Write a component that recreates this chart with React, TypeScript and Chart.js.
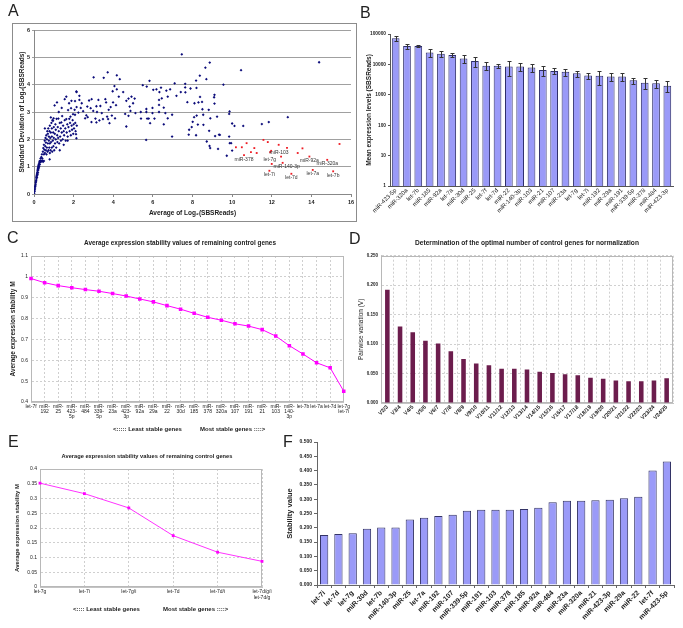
import React, { useEffect, useRef } from "react";
import { Chart, registerables } from "chart.js";

Chart.register(...registerables);
const FF = "'Liberation Sans', Arial, Helvetica, sans-serif";
Chart.defaults.font.family = FF;
Chart.defaults.color = "#222";

// ---------------- Panel A data ----------------
const blueDots: [number, number][] = [
  [0.01, 0.03], [0.03, 0.1], [0.04, 0.16], [0.05, 0.22], [0.06, 0.28], [0.07, 0.3], [0.08, 0.36], [0.09, 0.42],
  [0.1, 0.47], [0.11, 0.5], [0.12, 0.55], [0.12, 0.6], [0.13, 0.64], [0.14, 0.68], [0.15, 0.6], [0.15, 0.72],
  [0.16, 0.76], [0.17, 0.8], [0.18, 0.7], [0.18, 0.85], [0.19, 0.9], [0.2, 0.78], [0.2, 0.94], [0.21, 0.98],
  [0.22, 0.88], [0.22, 1.02], [0.23, 1.06], [0.24, 0.95], [0.25, 1.1], [0.26, 1.0], [0.27, 1.14], [0.28, 1.2],
  [0.29, 1.08], [0.3, 1.2], [0.32, 1.17], [0.34, 1.22], [0.36, 1.19], [0.38, 1.21], [0.4, 1.2], [0.43, 1.22],
  [0.46, 1.18], [0.5, 1.21], [0.33, 1.3], [0.37, 1.35], [0.4, 1.45], [0.42, 1.3],
  [0.45, 1.55], [0.47, 1.68], [0.5, 1.45], [0.5, 1.8], [0.52, 1.62], [0.54, 1.95], [0.55, 1.5], [0.57, 1.75],
  [0.58, 2.05], [0.6, 1.6], [0.6, 1.88], [0.62, 2.15], [0.63, 1.45], [0.65, 1.7], [0.65, 2.0], [0.67, 2.3],
  [0.68, 1.55], [0.7, 1.85], [0.7, 2.2], [0.72, 2.4], [0.73, 1.6], [0.75, 1.95], [0.75, 2.1], [0.77, 1.7],
  [0.78, 2.3], [0.79, 1.27], [0.8, 1.5], [0.8, 1.85], [0.8, 2.5], [0.82, 2.05], [0.84, 1.6], [0.85, 2.25],
  [0.86, 1.9], [0.88, 2.6], [0.9, 1.7], [0.9, 2.1], [0.9, 2.4], [0.92, 1.55], [0.93, 2.7], [0.95, 1.95],
  [0.96, 2.68], [0.97, 2.25], [0.98, 1.75], [0.99, 2.77], [1.0, 2.05], [1.0, 2.45], [1.02, 1.6], [1.04, 3.24],
  [1.05, 2.2], [1.06, 1.85], [1.08, 2.55], [1.1, 2.0], [1.1, 2.35], [1.12, 1.7], [1.14, 2.75], [1.16, 3.35],
  [1.17, 2.15], [1.18, 1.9], [1.2, 2.45], [1.22, 2.05], [1.23, 2.76], [1.25, 2.3], [1.27, 1.85], [1.3, 2.6],
  [1.32, 2.1], [1.35, 2.4], [1.36, 1.95], [1.38, 2.62], [1.4, 2.25], [1.42, 2.85], [1.45, 2.0], [1.47, 2.5],
  [1.5, 2.3], [1.52, 2.15], [1.55, 3.47], [1.55, 2.7], [1.58, 2.4], [1.6, 1.95], [1.63, 3.56], [1.63, 2.74],
  [1.65, 2.25], [1.68, 2.55], [1.7, 2.1], [1.72, 3.07], [1.74, 2.45], [1.77, 3.32], [1.78, 2.75], [1.8, 2.3],
  [1.82, 2.6], [1.84, 2.83], [1.86, 2.15], [1.87, 3.14], [1.89, 3.41], [1.9, 2.5], [1.92, 2.35], [1.95, 2.7],
  [1.97, 2.92], [1.98, 2.2], [2.0, 2.55], [2.02, 2.4], [2.05, 3.08], [2.07, 3.4], [2.08, 2.6], [2.1, 2.3],
  [2.12, 2.19], [2.14, 2.04], [2.14, 3.75], [2.16, 2.5], [0.55, 2.4], [0.85, 2.8], [1.25, 3.0], [1.4, 3.15],
  [1.3, 1.6], [1.5, 1.8], [1.7, 1.95],
  [7.46, 5.11], [8.87, 4.81], [8.65, 4.62], [10.45, 4.53], [14.39, 4.82], [3.72, 4.45], [3.01, 4.27], [3.52, 4.25],
  [4.18, 4.34], [4.33, 4.2], [8.37, 4.33], [8.18, 4.15], [8.7, 4.2], [7.1, 4.05], [7.63, 4.03], [9.56, 4.0],
  [5.83, 4.14], [5.49, 3.98], [5.69, 3.93], [6.02, 3.81], [6.18, 3.83], [6.41, 3.89], [6.33, 3.73], [6.68, 3.78],
  [6.87, 3.83], [7.63, 3.9], [7.41, 3.73], [7.9, 3.86], [7.64, 3.72], [8.2, 3.88], [8.38, 3.55], [7.19, 3.59],
  [6.75, 3.56], [8.3, 3.35], [8.1, 3.32], [8.48, 3.37], [7.74, 3.36], [9.11, 3.31], [9.11, 3.63], [9.09, 3.54],
  [6.31, 3.44], [6.45, 3.5], [5.98, 3.15], [6.31, 3.26], [5.98, 2.96], [6.31, 3.0], [6.55, 3.16], [5.67, 3.11],
  [5.67, 3.0], [5.39, 3.0], [5.79, 2.76], [6.08, 2.76], [5.86, 2.59], [5.4, 2.76], [5.71, 2.76], [6.63, 2.96],
  [6.75, 2.77], [6.55, 2.55], [6.97, 2.9], [6.97, 2.1], [5.66, 1.98], [7.83, 2.35], [7.81, 2.17], [8.08, 2.81],
  [8.21, 2.87], [8.01, 2.64], [7.96, 2.45], [8.27, 2.54], [8.18, 2.15], [8.54, 2.9], [8.5, 3.1], [8.82, 3.08],
  [8.9, 2.77], [8.55, 2.53], [9.24, 2.83], [9.34, 2.17], [9.14, 2.12], [8.84, 2.31], [9.29, 1.65], [8.86, 1.76],
  [8.89, 1.68], [8.72, 1.92], [9.87, 3.02], [9.85, 2.93], [10.0, 2.58], [10.12, 2.49], [9.88, 1.86], [9.95, 1.86],
  [9.73, 1.4], [11.5, 2.56], [11.85, 2.63], [12.81, 2.81], [10.56, 2.49], [10.0, 1.59], [9.85, 2.1], [9.38, 2.16],
  [4.06, 3.95], [3.97, 3.76], [4.18, 3.83], [4.5, 3.73], [4.28, 3.56], [4.77, 3.49], [4.92, 3.56], [5.08, 3.49],
  [4.66, 3.41], [5.0, 3.32], [4.83, 3.2], [4.87, 3.04], [5.12, 2.96], [4.66, 2.47], [4.6, 2.93], [4.77, 2.86],
  [4.14, 3.25], [3.99, 3.35], [3.87, 3.18], [3.77, 3.08], [3.6, 3.47], [3.64, 3.35], [3.69, 2.83], [3.74, 2.74],
  [3.81, 2.59], [4.09, 2.77], [3.93, 2.87], [3.25, 3.44], [3.35, 3.22], [3.15, 3.21], [3.18, 3.0], [3.3, 2.69],
  [3.48, 2.74], [3.42, 2.96], [2.78, 3.42], [2.69, 3.2], [2.86, 3.14], [2.91, 3.47], [2.99, 3.04], [3.1, 2.76],
  [2.9, 2.63], [3.15, 2.62], [2.64, 2.88], [2.58, 2.77], [2.71, 2.81], [2.48, 3.03], [2.41, 3.32], [2.36, 3.15],
  [2.29, 3.59], [2.15, 3.73], [2.29, 3.44], [2.24, 2.98], [2.15, 3.18], [2.07, 2.9],
];

const redDots: [number, number][] = [
  [10.19, 1.71], [10.49, 1.71], [10.73, 1.86], [10.6, 1.42], [10.95, 1.53], [11.12, 1.68], [11.24, 1.5],
  [11.58, 1.98], [11.8, 1.9], [11.92, 1.53], [11.97, 1.58], [12.0, 1.1], [11.88, 0.85], [12.35, 1.8],
  [12.47, 1.37], [12.55, 1.14], [12.77, 1.69], [12.99, 0.74], [13.31, 1.5], [13.55, 1.67], [13.9, 1.37],
  [14.07, 0.88], [14.8, 1.25], [15.1, 0.83], [15.42, 1.83],
];
const redLabels: string[] = [
  "", "", "", "miR-378", "", "", "", "", "", "", "", "let-7g", "let-7i", "", "miR-103", "miR-140-3p", "",
  "let-7d", "", "", "miR-92a", "let-7a", "miR-320a", "let-7b", "",
];
const labelsAbove: string[] = ["let-7g", "miR-103"];

// ---------------- Panel B data ----------------
const bLabels: string[] = [
  "miR-423-5p", "miR-320a", "let-7b", "miR-185", "miR-92a", "let-7a", "miR-30d", "miR-25", "let-7f", "let-7d",
  "miR-22", "miR-140-3p", "miR-103", "miR-21", "miR-107", "miR-23a", "let-7g", "let-7i", "miR-192", "miR-29a",
  "miR-191", "miR-339-5p", "miR-378", "miR-484", "miR-423-3p",
];
const bValues: number[] = [
  72000, 40500, 40000, 24400, 22600, 20500, 15500, 13000, 9100, 9000, 8500, 8500, 7900, 6600, 6100, 5700,
  5100, 4300, 4200, 4000, 4000, 3000, 2500, 2400, 2000,
];
const bErrors: number[] = [
  14000, 7700, 3500, 7000, 5100, 2700, 4500, 5000, 2700, 1600, 4200, 2400, 2100, 2500, 1400, 1500, 1200, 900,
  2100, 1200, 1200, 700, 1000, 700, 750,
];
const bTicks: number[] = [1, 10, 100, 1000, 10000, 100000];

// ---------------- Panel C data ----------------
const cLabels: (string | string[])[] = [
  "let-7f", ["miR-", "192"], ["miR-", "25"], ["miR-", "423-", "5p"], ["miR-", "484"], ["miR-", "339-", "5p"],
  ["miR-", "23a"], ["miR-", "423-", "3p"], ["miR-", "92a"], ["miR-", "29a"], ["miR-", "22"], ["miR-", "30d"],
  ["miR-", "185"], ["miR-", "378"], ["miR-", "320a"], ["miR-", "107"], ["miR-", "191"], ["miR-", "21"],
  ["miR-", "103"], ["miR-", "140-", "3p"], "let-7b", "let-7a", "let-7d", ["let-7g", "let-7i"],
];
const cValues: number[] = [
  0.992, 0.972, 0.958, 0.948, 0.939, 0.931, 0.92, 0.908, 0.894, 0.88, 0.862, 0.845, 0.825, 0.806, 0.792,
  0.775, 0.764, 0.747, 0.716, 0.67, 0.63, 0.588, 0.564, 0.452,
];

// ---------------- Panel D data ----------------
const dLabels: string[] = [
  "V2/3", "V3/4", "V4/5", "V5/6", "V6/7", "V7/8", "V8/9", "V9/10", "V10/11", "V11/12", "V12/13", "V13/14",
  "V14/15", "V15/16", "V16/17", "V17/18", "V18/19", "V19/20", "V20/21", "V21/22", "V22/23", "V23/24", "V24/25",
];
const dValues: number[] = [
  0.192, 0.13, 0.12, 0.1056, 0.101, 0.088, 0.0745, 0.067, 0.064, 0.058, 0.058, 0.057, 0.053, 0.051, 0.049,
  0.047, 0.043, 0.041, 0.038, 0.037, 0.037, 0.038, 0.042,
];

// ---------------- Panel E data ----------------
const eLabels: (string | string[])[] = ["let-7g", "let-7i", "let-7g/i", "let-7d", "let-7d/i", ["let-7d/g/i", "let-7d/g"]];
const eValues: number[] = [0.352, 0.3165, 0.268, 0.174, 0.118, 0.087];

// ---------------- Panel F data ----------------
const fLabels: string[] = [
  "let-7i", "let-7d", "let-7g", "miR-30d", "let-7b", "miR-140-3p", "miR-25", "let-7a", "miR-192", "miR-107",
  "miR-339-5p", "miR-191", "miR-103", "miR-378", "miR-185", "miR-92a", "miR-484", "miR-23a", "miR-320a",
  "miR-21", "miR-423-3p", "miR-29a", "miR-22", "let-7f", "miR-423-5p",
];
const fValues: number[] = [
  0.175, 0.178, 0.181, 0.197, 0.201, 0.201, 0.229, 0.235, 0.241, 0.246, 0.26, 0.263, 0.263, 0.263, 0.266,
  0.27, 0.289, 0.295, 0.295, 0.296, 0.298, 0.303, 0.309, 0.4, 0.432,
];

// ---------------- helpers & plugins ----------------
const fixW = (w: number) => (s: any) => { s.width = w; };
const fixH = (h: number) => (s: any) => { s.height = h; };

const framePlugin = {
  id: "frame",
  beforeDatasetsDraw(chart: any, _a: any, opts: any) {
    if (!opts || !opts.color) return;
    const { left, top, right, bottom } = chart.chartArea;
    const ctx = chart.ctx;
    ctx.save();
    ctx.strokeStyle = opts.color;
    ctx.lineWidth = 1;
    ctx.setLineDash([]);
    ctx.strokeRect(Math.round(left) + 0.5, Math.round(top) + 0.5, Math.round(right - left) - 1, Math.round(bottom - top) - 1);
    ctx.restore();
  },
};

const errorBarPlugin = {
  id: "errorBars",
  afterDatasetsDraw(chart: any, _a: any, opts: any) {
    if (!opts || !opts.errors) return;
    const meta = chart.getDatasetMeta(0);
    const ys = chart.scales.y;
    const ctx = chart.ctx;
    ctx.save();
    ctx.strokeStyle = opts.color;
    ctx.lineWidth = 1;
    meta.data.forEach((bar: any, i: number) => {
      const v = chart.data.datasets[0].data[i] as number;
      const e = opts.errors[i];
      const yT = Math.round(ys.getPixelForValue(v + e)) + 0.5;
      const yB = Math.round(ys.getPixelForValue(Math.max(v - e, 1))) + 0.5;
      const x = Math.round(bar.x) + 0.5;
      ctx.beginPath();
      ctx.moveTo(x, yT); ctx.lineTo(x, yB);
      ctx.moveTo(x - 2, yT); ctx.lineTo(x + 2, yT);
      ctx.moveTo(x - 2, yB); ctx.lineTo(x + 2, yB);
      ctx.stroke();
    });
    ctx.restore();
  },
};

const pointLabelPlugin = {
  id: "pointLabels",
  afterDatasetsDraw(chart: any, _a: any, opts: any) {
    if (!opts || !opts.labels) return;
    const meta = chart.getDatasetMeta(opts.datasetIndex);
    const ctx = chart.ctx;
    ctx.save();
    ctx.font = `5px ${FF}`;
    ctx.fillStyle = "#333";
    ctx.textAlign = "center";
    ctx.textBaseline = "middle";
    opts.labels.forEach((t: string, i: number) => {
      if (!t) return;
      const p = meta.data[i];
      const above = opts.above.includes(t);
      const dx = t === "miR-140-3p" ? 4 : above ? -2 : 0;
      ctx.fillText(t, p.x + dx, p.y + (above ? -4 : 4));
    });
    ctx.restore();
  },
};

const base = { responsive: false, animation: false as const, devicePixelRatio: 1, events: [] as any[] };

// ---------------- chart configs ----------------
const makeA = () => ({
  type: "scatter",
  data: {
    datasets: [
      { data: blueDots.map(([x, y]) => ({ x, y })), pointStyle: "rectRot", pointRadius: 1.4, pointBackgroundColor: "#0b0b7a", pointBorderWidth: 0 },
      { data: redDots.map(([x, y]) => ({ x, y })), pointStyle: "rect", pointRadius: 1.3, pointBackgroundColor: "#ee1c24", pointBorderWidth: 0 },
    ],
  },
  options: {
    ...base,
    layout: { padding: { left: 0, top: 7, right: 6, bottom: 0 } },
    plugins: { legend: { display: false }, tooltip: { enabled: false }, pointLabels: { datasetIndex: 1, labels: redLabels, above: labelsAbove } },
    scales: {
      x: {
        type: "linear", min: 0, max: 16, afterFit: fixH(28),
        ticks: { stepSize: 2, font: { size: 5.5, weight: "bold" }, padding: 2, color: "#222" },
        grid: { drawOnChartArea: false, tickLength: 3, color: "#888" },
        border: { color: "#888" },
        title: { display: true, text: "Average of Log₂(SBSReads)", font: { size: 6.5, weight: "bold" }, padding: { top: 0, bottom: 5 }, color: "#222" },
      },
      y: {
        min: 0, max: 6, afterFit: fixW(22),
        ticks: { stepSize: 1, font: { size: 5.5, weight: "bold" }, padding: 2, color: "#222" },
        grid: { color: "#a0a0a0", tickLength: 2 },
        border: { color: "#888" },
        title: { display: true, text: "Standard Deviation of Log₂(SBSReads)", font: { size: 6.5, weight: "bold" }, padding: { top: 6, bottom: 0 }, color: "#222" },
      },
    },
  },
  plugins: [pointLabelPlugin],
});

const makeB = () => ({
  type: "bar",
  data: {
    labels: bLabels,
    datasets: [{ data: bValues, backgroundColor: "#9a9af8", borderColor: "#2e2e6a", borderWidth: 1, barPercentage: 0.68, categoryPercentage: 1 }],
  },
  options: {
    ...base,
    layout: { padding: { left: 0, top: 9, right: 10, bottom: 0 } },
    plugins: { legend: { display: false }, tooltip: { enabled: false }, errorBars: { errors: bErrors, color: "#333" } },
    scales: {
      x: {
        afterFit: fixH(31),
        ticks: { autoSkip: false, minRotation: 45, maxRotation: 45, font: { size: 6 }, padding: 1, color: "#222" },
        grid: { display: false, drawTicks: false },
        border: { color: "#555" },
      },
      y: {
        type: "logarithmic", min: 1, max: 100000, afterFit: fixW(35),
        afterBuildTicks: (s: any) => { s.ticks = bTicks.map((v) => ({ value: v })); },
        ticks: { callback: (v: any) => String(v), font: { size: 4.8, weight: "bold" }, padding: 2, color: "#222" },
        grid: { drawOnChartArea: false, tickLength: 2, color: "#555" },
        border: { color: "#555" },
        title: { display: true, text: "Mean expression levels (SBSReads)", font: { size: 6.5, weight: "bold" }, padding: { top: 10, bottom: 0 }, color: "#222" },
      },
    },
  },
  plugins: [errorBarPlugin],
});

const gridDash = { color: "#c4c4c4", dash: [2, 2] };

const makeC = () => ({
  type: "line",
  data: {
    labels: cLabels,
    datasets: [{ data: cValues, borderColor: "#ff00ff", borderWidth: 1, pointStyle: "rect", pointRadius: 2.5, pointBackgroundColor: "#ff00ff", pointBorderWidth: 0, tension: 0 }],
  },
  options: {
    ...base,
    layout: { padding: { left: 0, top: 3, right: 6, bottom: 0 } },
    plugins: { legend: { display: false }, tooltip: { enabled: false }, frame: { color: "#b8b8b8" } },
    scales: {
      x: {
        afterFit: fixH(28),
        ticks: { autoSkip: false, minRotation: 0, maxRotation: 0, font: { size: 5, lineHeight: 1 }, padding: 2, color: "#222" },
        grid: { color: "#cfcfcf", drawTicks: false },
        border: gridDash,
      },
      y: {
        min: 0.4, max: 1.1, afterFit: fixW(31),
        ticks: { stepSize: 0.1, callback: (v: any) => String(+(+v).toFixed(1)), font: { size: 5 }, padding: 3, color: "#222" },
        grid: { color: "#cfcfcf", drawTicks: false },
        border: gridDash,
        title: { display: true, text: "Average expression stability M", font: { size: 6.5, weight: "bold" }, padding: { top: 9, bottom: 0 }, color: "#222" },
      },
    },
  },
  plugins: [framePlugin],
});

const makeD = () => ({
  type: "bar",
  data: {
    labels: dLabels,
    datasets: [{ data: dValues, backgroundColor: "#6c1d4d", barPercentage: 0.36, categoryPercentage: 1 }],
  },
  options: {
    ...base,
    layout: { padding: { left: 0, top: 3, right: 10, bottom: 0 } },
    plugins: { legend: { display: false }, tooltip: { enabled: false }, frame: { color: "#b8b8b8" } },
    scales: {
      x: {
        afterFit: fixH(29),
        ticks: { autoSkip: false, minRotation: 45, maxRotation: 45, font: { size: 5.5, weight: "bold" }, padding: 1, color: "#222" },
        grid: { color: "#d0d0d0", drawTicks: false },
        border: gridDash,
      },
      y: {
        min: 0, max: 0.25, afterFit: fixW(26),
        ticks: { stepSize: 0.05, callback: (v: any) => (+v).toFixed(3), font: { size: 4.5, weight: "bold" }, padding: 3, color: "#222" },
        grid: { color: "#d0d0d0", drawTicks: false },
        border: gridDash,
        title: { display: true, text: "Pairwise variation (V)", font: { size: 6.5 }, padding: { top: 2, bottom: 0 }, color: "#222" },
      },
    },
  },
  plugins: [framePlugin],
});

const makeE = () => ({
  type: "line",
  data: {
    labels: eLabels,
    datasets: [{ data: eValues, borderColor: "#ff33ff", borderWidth: 1, pointStyle: "rect", pointRadius: 2, pointBackgroundColor: "#ff00ff", pointBorderWidth: 0, tension: 0 }],
  },
  options: {
    ...base,
    layout: { padding: { left: 0, top: 3, right: 13, bottom: 0 } },
    plugins: { legend: { display: false }, tooltip: { enabled: false }, frame: { color: "#b8b8b8" } },
    scales: {
      x: {
        afterFit: fixH(18),
        ticks: { autoSkip: false, minRotation: 0, maxRotation: 0, font: { size: 5, lineHeight: 1.1 }, padding: 2, color: "#222" },
        grid: { color: "#cfcfcf", drawTicks: false },
        border: gridDash,
      },
      y: {
        min: 0, max: 0.4, afterFit: fixW(40),
        ticks: { stepSize: 0.05, callback: (v: any) => String(+(+v).toFixed(2)), font: { size: 5 }, padding: 3, color: "#222" },
        grid: { color: "#cfcfcf", drawTicks: false },
        border: gridDash,
        title: { display: true, text: "Average expression stability M", font: { size: 6, weight: "bold" }, padding: { top: 14, bottom: 0 }, color: "#222" },
      },
    },
  },
  plugins: [framePlugin],
});

const makeF = () => ({
  type: "bar",
  data: {
    labels: fLabels,
    datasets: [{ data: fValues, backgroundColor: "#9a9af8", borderColor: "#333366", borderWidth: 1, barPercentage: 0.58, categoryPercentage: 1 }],
  },
  options: {
    ...base,
    layout: { padding: { left: 0, top: 7, right: 9, bottom: 0 } },
    plugins: { legend: { display: false }, tooltip: { enabled: false } },
    scales: {
      x: {
        afterFit: fixH(43),
        ticks: { autoSkip: false, minRotation: 45, maxRotation: 45, font: { size: 7, weight: "bold" }, padding: 1, color: "#222" },
        grid: { drawOnChartArea: false, offset: true, tickLength: 3, color: "#666" },
        border: { color: "#666" },
      },
      y: {
        min: 0, max: 0.5, afterFit: fixW(37),
        ticks: { stepSize: 0.05, callback: (v: any) => (+v).toFixed(3), font: { size: 5, weight: "bold" }, padding: 2, color: "#222" },
        grid: { drawOnChartArea: false, tickLength: 3, color: "#666" },
        border: { color: "#666" },
        title: { display: true, text: "Stability value", font: { size: 7.5, weight: "bold" }, padding: { top: 5, bottom: 0 }, color: "#222" },
      },
    },
  },
});

// ---------------- components ----------------
function ChartBox({ x, y, w, h, make }: { x: number; y: number; w: number; h: number; make: () => any }) {
  const ref = useRef<HTMLCanvasElement>(null);
  useEffect(() => {
    const chart = new Chart(ref.current as HTMLCanvasElement, make());
    return () => chart.destroy();
  }, []);
  return <canvas ref={ref} width={w} height={h} style={{ position: "absolute", left: x, top: y, width: w, height: h }} />;
}

function Txt({ x, y, size, bold, children, w, center }: any) {
  return (
    <div
      style={{
        position: "absolute", left: x, top: y, width: w, fontFamily: FF, fontSize: size, lineHeight: 1,
        fontWeight: bold ? "bold" : "normal", whiteSpace: "pre", textAlign: center ? "center" : "left", color: "#222",
        willChange: "transform", WebkitFontSmoothing: "antialiased",
      }}
    >
      {children}
    </div>
  );
}

export default function App() {
  return (
    <div style={{ position: "absolute", left: 0, top: 0, width: 683, height: 628, background: "#fff", overflow: "hidden" }}>
      {/* Panel letters */}
      <Txt x={8} y={3} size={16}>A</Txt>
      <Txt x={360} y={5} size={16}>B</Txt>
      <Txt x={7} y={230} size={16}>C</Txt>
      <Txt x={349} y={231} size={16}>D</Txt>
      <Txt x={8} y={434} size={16}>E</Txt>
      <Txt x={283} y={434} size={16}>F</Txt>

      {/* A */}
      <div style={{ position: "absolute", left: 12, top: 23, width: 345, height: 199, border: "1px solid #8c8c8c", boxSizing: "border-box" }} />
      <ChartBox x={12} y={23} w={345} h={199} make={makeA} />

      {/* B */}
      <ChartBox x={355} y={25} w={328} h={192} make={makeB} />

      {/* C */}
      <Txt x={-20} y={240} w={400} size={6.4} bold center>Average expression stability values of remaining control genes</Txt>
      <ChartBox x={0} y={250} w={352} h={180} make={makeC} />
      <Txt x={113} y={425.5} size={6} bold>{"<::::: Least stable genes"}</Txt>
      <Txt x={200} y={425.5} size={6} bold>{"Most stable genes ::::>"}</Txt>

      {/* D */}
      <Txt x={327} y={239.5} w={400} size={6.6} bold center>Determination of the optimal number of control genes for normalization</Txt>
      <ChartBox x={355} y={250} w={328} h={182} make={makeD} />

      {/* E */}
      <Txt x={-53} y={454} w={400} size={5.7} bold center>Average expression stability values of remaining control genes</Txt>
      <ChartBox x={0} y={463} w={275} h={142} make={makeE} />
      <Txt x={73} y={606} size={6} bold>{"<:::: Least stable genes"}</Txt>
      <Txt x={163} y={606} size={6} bold>{"Most stable genes ::::>"}</Txt>

      {/* F */}
      <ChartBox x={280} y={435} w={403} h={193} make={makeF} />
    </div>
  );
}
